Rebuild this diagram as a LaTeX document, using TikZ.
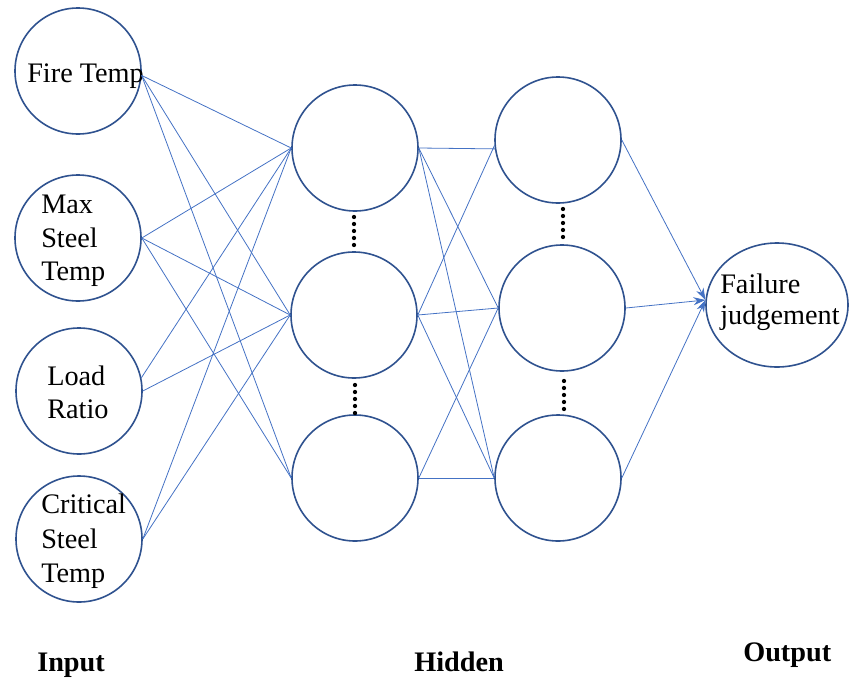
\documentclass[tikz,border=0pt]{standalone}
\usepackage{fontspec}
\setmainfont{Liberation Serif}
\usetikzlibrary{arrows.meta,shapes.geometric}
\definecolor{ring}{HTML}{2F528F}
\definecolor{wire}{HTML}{4472C4}
\begin{document}
\begin{tikzpicture}[x=0.75pt,y=-0.75pt,
  neuron/.style={circle,draw=ring,line width=1.2pt,minimum size=94.5pt,inner sep=0pt},
  outnode/.style={ellipse,draw=ring,line width=1.2pt,minimum width=106.5pt,minimum height=93pt,inner sep=0pt},
  txt/.style={anchor=base west,inner sep=0pt,font=\fontsize{21.2}{25}\selectfont},
  lbl/.style={anchor=base west,inner sep=0pt,font=\fontsize{21.2}{25}\selectfont\bfseries},
  wirestyle/.style={draw=wire,line width=0.6pt},
  arr/.style={wirestyle,-{Stealth[length=9pt,width=6pt]}},
  vdot/.style={circle,fill=black,inner sep=0pt,minimum size=3.2pt}]
\useasboundingbox (0,0) rectangle (849,678);
% input layer
\node[neuron] (i1) at (78,71) {};
\node[neuron] (i2) at (78,238) {};
\node[neuron] (i3) at (79,391) {};
\node[neuron] (i4) at (79,539) {};
% hidden layer 1
\node[neuron] (h1) at (355,148) {};
\node[neuron] (h2) at (354,315) {};
\node[neuron] (h3) at (355,478) {};
% hidden layer 2
\node[neuron] (g1) at (558,140) {};
\node[neuron] (g2) at (562,308) {};
\node[neuron] (g3) at (558,478) {};
% output
\node[outnode] (o) at (777,305) {};
% texts
\node[txt] (t1) at (27,82) {Fire Temp};
\node[txt] (t2a) at (41,213) {Max};
\node[txt] (t2b) at (41,247) {Steel};
\node[txt] (t2c) at (41,280) {Temp};
\node[txt] (t3a) at (47,385) {Load};
\node[txt] (t3b) at (47,418) {Ratio};
\node[txt] (t4a) at (41,513) {Critical};
\node[txt] (t4b) at (41,548) {Steel};
\node[txt] (t4c) at (41,582) {Temp};
\node[txt] (t5a) at (720,293) {Failure};
\node[txt] (t5b) at (720,324) {judgement};
\node[lbl] (l1) at (37,671) {Input};
\node[lbl] (l2) at (414,671) {Hidden};
\node[lbl] (l3) at (743,661) {Output};
% input -> hidden 1
\draw[wirestyle] (i1.-4) -- (h1.west);
\draw[wirestyle] (i1.-4) -- (h2.west);
\draw[wirestyle] (i1.-4) -- (h3.west);
\draw[wirestyle] (i2.east) -- (h1.west);
\draw[wirestyle] (i2.east) -- (h2.west);
\draw[wirestyle] (i2.east) -- (h3.west);
\draw[wirestyle] (i3.12) -- (h1.west);
\draw[wirestyle] (i3.east) -- (h2.west);
\draw[wirestyle] (i4.east) -- (h1.west);
\draw[wirestyle] (i4.east) -- (h2.west);
% hidden 1 -> hidden 2
\draw[wirestyle] (h1.east) -- (g1.188);
\draw[wirestyle] (h1.east) -- (g2.west);
\draw[wirestyle] (h1.east) -- (g3.west);
\draw[wirestyle] (h2.east) -- (g1.185);
\draw[wirestyle] (h2.east) -- (g2.west);
\draw[wirestyle] (h2.east) -- (g3.west);
\draw[wirestyle] (h3.east) -- (g2.west);
\draw[wirestyle] (h3.east) -- (g3.west);
% hidden 2 -> output
\draw[arr] (g1.east) -- (o.176);
\draw[arr] (g2.east) -- (o.176);
\draw[arr] (g3.east) -- (o.176);
% vertical dots
\foreach \k in {0,...,4} {
  \node[vdot] (da\k) at (354,217+7*\k) {};
  \node[vdot] (db\k) at (355,385+7*\k) {};
  \node[vdot] (dc\k) at (563,209+7*\k) {};
  \node[vdot] (dd\k) at (564,381+7*\k) {};
}
\end{tikzpicture}
\end{document}
